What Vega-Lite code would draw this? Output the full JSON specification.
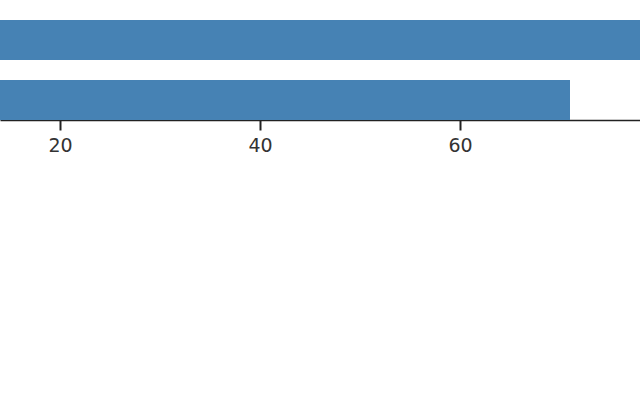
{
  "$schema": "https://vega.github.io/schema/vega-lite/v6.json",
  "width": 640,
  "height": 120,
  "padding": 0,
  "autosize": {"type": "pad"},
  "background": "white",
  "config": {"view": {"stroke": null}},
  "data": {"values": [
    {"category": "A", "value": 82},
    {"category": "B", "value": 71}
  ]},
  "mark": {"type": "bar", "color": "#4682b4", "clip": true},
  "encoding": {
    "y": {"field": "category", "type": "nominal", "sort": null,
      "scale": {"range": [20, 120], "paddingInner": 0.3333, "paddingOuter": 0},
      "axis": null},
    "x": {"field": "value", "type": "quantitative",
      "scale": {"domain": [14, 78], "nice": false, "zero": false},
      "axis": {"title": null, "values": [20, 40, 60], "grid": false,
        "domainColor": "#222222", "domainWidth": 1.5, "tickColor": "#222222", "tickWidth": 2, "tickSize": 10,
        "labelFont": "DejaVu Sans", "labelFontSize": 19, "labelColor": "#333333", "labelPadding": 6}}
  }
}
